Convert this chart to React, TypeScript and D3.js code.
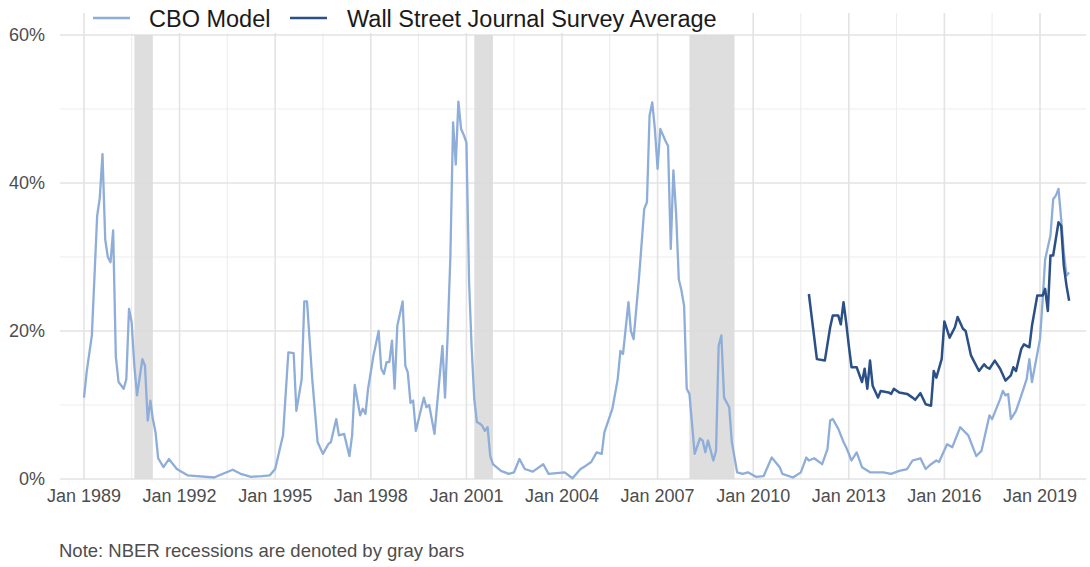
import * as d3 from "d3";

// CBO model probability of recession (%)
const cboDates = [
  "1989-01", "1989-02", "1989-04", "1989-06", "1989-07", "1989-08", "1989-09", "1989-10", "1989-11", "1989-12",
  "1990-01", "1990-02", "1990-04", "1990-05", "1990-06", "1990-07", "1990-08", "1990-09", "1990-11", "1990-12",
  "1991-01", "1991-02", "1991-03", "1991-04", "1991-05", "1991-07", "1991-09", "1991-12",
  "1992-04",
  "1993-02", "1993-04", "1993-09", "1993-12",
  "1994-04", "1994-08", "1994-11",
  "1995-01", "1995-04", "1995-06", "1995-08", "1995-09", "1995-11", "1995-12",
  "1996-01", "1996-03", "1996-05", "1996-07", "1996-09", "1996-10", "1996-12",
  "1997-01", "1997-03", "1997-05", "1997-06", "1997-07", "1997-09", "1997-10", "1997-11", "1997-12",
  "1998-02", "1998-04", "1998-05", "1998-06", "1998-07", "1998-08", "1998-09", "1998-10", "1998-11",
  "1999-01", "1999-02", "1999-03", "1999-04", "1999-05", "1999-06", "1999-09", "1999-10", "1999-11",
  "2000-01", "2000-04", "2000-05", "2000-06", "2000-07", "2000-08", "2000-09", "2000-10", "2000-11", "2000-12",
  "2001-01", "2001-02", "2001-03", "2001-04", "2001-05", "2001-06", "2001-07", "2001-08", "2001-09", "2001-10", "2001-11",
  "2002-02", "2002-05", "2002-07", "2002-09", "2002-11",
  "2003-02", "2003-06", "2003-08",
  "2004-02", "2004-05", "2004-08", "2004-10", "2004-12",
  "2005-02", "2005-04", "2005-05", "2005-08", "2005-10", "2005-11", "2005-12",
  "2006-02", "2006-03", "2006-04", "2006-06", "2006-08", "2006-09", "2006-10", "2006-11", "2006-12",
  "2007-01", "2007-02", "2007-04", "2007-05", "2007-06", "2007-07", "2007-08", "2007-09", "2007-10", "2007-11", "2007-12",
  "2008-01", "2008-03", "2008-05", "2008-06", "2008-07", "2008-08", "2008-10", "2008-11", "2008-12",
  "2009-01", "2009-02", "2009-04", "2009-05", "2009-07", "2009-09", "2009-11",
  "2010-02", "2010-05", "2010-08", "2010-11", "2010-12",
  "2011-04", "2011-07", "2011-09", "2011-10", "2011-12",
  "2012-03", "2012-05", "2012-06", "2012-07", "2012-09", "2012-11", "2012-12",
  "2013-02", "2013-04", "2013-06", "2013-09",
  "2014-02", "2014-05", "2014-08", "2014-11",
  "2015-01", "2015-03", "2015-04", "2015-06", "2015-08", "2015-10", "2015-11",
  "2016-02", "2016-04", "2016-07", "2016-10",
  "2017-01", "2017-03", "2017-06", "2017-07", "2017-10", "2017-11", "2017-12",
  "2018-01", "2018-02", "2018-04", "2018-06", "2018-08", "2018-09", "2018-10",
  "2019-01", "2019-02", "2019-03", "2019-05", "2019-06", "2019-07", "2019-08", "2019-09", "2019-10", "2019-11", "2019-12",
];
const cboValues = [
  11, 14.5, 19.4, 35.6, 38, 43.9, 32.4, 30, 29.3, 33.6,
  16.5, 13.1, 12.2, 13.5, 23, 21.2, 15.3, 11.3, 16.2, 15.3,
  7.9, 10.6, 8.1, 6.3, 2.8, 1.6, 2.7, 1.35,
  0.5,
  0.2, 0.5, 1.25, 0.7,
  0.3, 0.4, 0.5,
  1.35, 5.9, 17.1, 17, 9.2, 13.5, 24,
  24, 13.5, 5, 3.4, 4.7, 5, 8.1,
  5.9, 6.1, 3.1, 5.9, 12.7, 8.6, 9.5, 8.8, 12.2,
  16.7, 20, 14.9, 14.2, 15.8, 15.8, 18.7, 12.2, 20.7,
  24, 15.3, 14.4, 10.3, 10.6, 6.5, 11, 9.7, 10,
  6.1, 18, 11, 19.8, 30, 48.2, 42.5, 51, 47.3, 46.5,
  45.5, 26.5, 18, 10.8, 7.7, 7.5, 7.2, 6.5, 7, 3.1, 2,
  1.1, 0.7, 0.9, 2.7, 1.35,
  1.0, 2, 0.7,
  0.9, 0.1, 1.35, 1.8, 2.3,
  3.6, 3.4, 6.3, 9.5, 13.5, 17.3, 16.9,
  23.9, 20, 18.9, 27, 36.5, 37.4, 49.1, 50.9, 47.3,
  41.9, 47.3, 45.7, 45, 31.1, 41.7, 36, 27, 25.5, 23.4, 12.2,
  11.5, 3.4, 5.5, 5.2, 3.6, 5.2, 2.5, 3.8, 18,
  19.4, 11, 9.7, 5, 0.9, 0.7, 0.9,
  0.3, 0.4, 2.9, 1.6, 0.7,
  0.2, 0.9, 2.9, 2.5, 2.8,
  2, 4.05, 7.9, 8.1, 6.8, 5, 4.3,
  2.5, 3.6, 1.6, 0.9,
  0.9, 0.7, 1.1, 1.35,
  2.5, 2.7, 2.8, 1.35, 2, 2.5, 2.3,
  4.7, 4.3, 7, 5.9,
  3.1, 3.8, 8.6, 8.1, 10.8, 11.9, 11.3,
  11.5, 8.1, 9.2, 11.3, 13.5, 16.2, 13.1,
  18.9, 24.3, 29.7, 32.9, 37.8, 38.3, 39.2, 35.1, 30.6, 27.5, 27.9,
];

// Wall Street Journal survey average (%)
const wsjDates = [
  "2011-10",
  "2012-01", "2012-04", "2012-06", "2012-07", "2012-09", "2012-10", "2012-11", "2012-12",
  "2013-01", "2013-02", "2013-04", "2013-06", "2013-07", "2013-08", "2013-09", "2013-10", "2013-12",
  "2014-01", "2014-04", "2014-05", "2014-06", "2014-08", "2014-11",
  "2015-01", "2015-02", "2015-04", "2015-06", "2015-08", "2015-09", "2015-10", "2015-12",
  "2016-01", "2016-03", "2016-05", "2016-06", "2016-08", "2016-09", "2016-11", "2016-12",
  "2017-02", "2017-04", "2017-05", "2017-06", "2017-08", "2017-10", "2017-12",
  "2018-02", "2018-03", "2018-04", "2018-06", "2018-07", "2018-09", "2018-10", "2018-12",
  "2019-02", "2019-03", "2019-04", "2019-05", "2019-06", "2019-08", "2019-09", "2019-10", "2019-11", "2019-12",
];
const wsjValues = [
  25,
  16.2, 16, 20.5, 22.1, 22.1, 20.9, 23.9, 21.2,
  18, 15.1, 15.1, 13.1, 14.9, 12.2, 16, 12.6, 11,
  11.9, 11.7, 11.5, 12.2, 11.7, 11.5,
  11, 10.7, 11.6, 10.1, 9.9, 14.6, 13.7, 16.2,
  21.3, 19.1, 20.5, 21.9, 20.3, 20, 16.7, 16,
  14.6, 15.5, 15.1, 14.9, 16, 14.9, 13.3,
  14, 15.1, 14.6, 17.6, 18.2, 17.8, 20.7, 24.8,
  24.8, 25.7, 22.7, 30.2, 30.2, 34.7, 34.2, 28.8, 26.1, 24.1,
];

// NBER recessions
const recessionStarts = ["1990-08", "2001-04", "2008-01"];
const recessionEnds = ["1991-03", "2001-11", "2009-06"];

const xTickYears = [1989, 1992, 1995, 1998, 2001, 2004, 2007, 2010, 2013, 2016, 2019];
const yTicks = [0, 20, 40, 60];
const yMinor = [10, 30, 50];
const seriesNames = ["CBO Model", "Wall Street Journal Survey Average"];
const noteText = "Note: NBER recessions are denoted by gray bars";

const W = 1090;
const H = 567;
const panel = { left: 60, right: 1086, top: 13, bottom: 480 };
const cboColor = "#8eadd8";
const wsjColor = "#2b5086";
const font = "'Liberation Sans', Arial, sans-serif";

const parse = d3.timeParse("%Y-%m");

export default function App() {
  const x = d3
    .scaleTime()
    .domain([new Date(1989, 0, 1), new Date(2019, 0, 1)])
    .range([84, 1040]);
  const y = d3.scaleLinear().domain([0, 60]).range([479, 35]);

  const cbo = cboDates.map((d, i) => ({ date: parse(d) as Date, value: cboValues[i] }));
  const wsj = wsjDates.map((d, i) => ({ date: parse(d) as Date, value: wsjValues[i] }));

  const line = d3
    .line<{ date: Date; value: number }>()
    .x((d) => x(d.date))
    .y((d) => y(d.value));

  const majorX = xTickYears.map((yr) => new Date(yr, 0, 1));
  const minorX = xTickYears
    .map((yr) => new Date(yr - 2, 6, 1))
    .concat([new Date(2020, 6, 1)])
    .filter((d) => x(d) > panel.left && x(d) < panel.right);

  return (
    <svg
      width={W}
      height={H}
      style={{ position: "absolute", left: 0, top: 0, background: "#fff" }}
      fontFamily={font}
    >
      {/* grid */}
      {yMinor.map((v) => (
        <line key={"ym" + v} x1={panel.left} x2={panel.right} y1={y(v)} y2={y(v)} stroke="#ededed" strokeWidth={1.1} />
      ))}
      {minorX.map((d, i) => (
        <line key={"xm" + i} x1={x(d)} x2={x(d)} y1={panel.top} y2={panel.bottom} stroke="#ededed" strokeWidth={1.1} />
      ))}
      {yTicks.map((v) => (
        <line key={"y" + v} x1={panel.left} x2={panel.right} y1={y(v)} y2={y(v)} stroke="#e3e3e3" strokeWidth={1.6} />
      ))}
      {majorX.map((d, i) => (
        <line key={"x" + i} x1={x(d)} x2={x(d)} y1={panel.top} y2={panel.bottom} stroke="#e3e3e3" strokeWidth={1.6} />
      ))}

      {/* recession bars */}
      {recessionStarts.map((s, i) => {
        const x0 = x(parse(s) as Date);
        const x1 = x(parse(recessionEnds[i]) as Date);
        return <rect key={"r" + i} x={x0} y={y(60)} width={x1 - x0} height={y(0) - y(60)} fill="#dadada" opacity={0.9} />;
      })}

      {/* series */}
      <path d={line(cbo) || ""} fill="none" stroke={cboColor} strokeWidth={2.3} strokeLinejoin="round" />
      <path d={line(wsj) || ""} fill="none" stroke={wsjColor} strokeWidth={2.5} strokeLinejoin="round" />

      {/* axis labels */}
      {yTicks.map((v) => (
        <text key={"yl" + v} x={45} y={y(v) + 6} textAnchor="end" fontSize={18} fill="#4d4d4d">
          {v + "%"}
        </text>
      ))}
      {majorX.map((d, i) => (
        <text key={"xl" + i} x={x(d)} y={502} textAnchor="middle" fontSize={18} fill="#4d4d4d">
          {d3.timeFormat("Jan %Y")(d)}
        </text>
      ))}

      {/* legend */}
      <rect x={88} y={0} width={634} height={33} fill="#fff" />
      <line x1={93} x2={130} y1={18} y2={18} stroke={cboColor} strokeWidth={2.3} />
      <text x={149} y={27} fontSize={23.5} fill="#1a1a1a">
        {seriesNames[0]}
      </text>
      <line x1={290} x2={327} y1={18} y2={18} stroke={wsjColor} strokeWidth={2.5} />
      <text x={347} y={27} fontSize={23.5} fill="#1a1a1a">
        {seriesNames[1]}
      </text>

      {/* note */}
      <text x={59} y={557} fontSize={18.5} fill="#4d4d4d">
        {noteText}
      </text>
    </svg>
  );
}
